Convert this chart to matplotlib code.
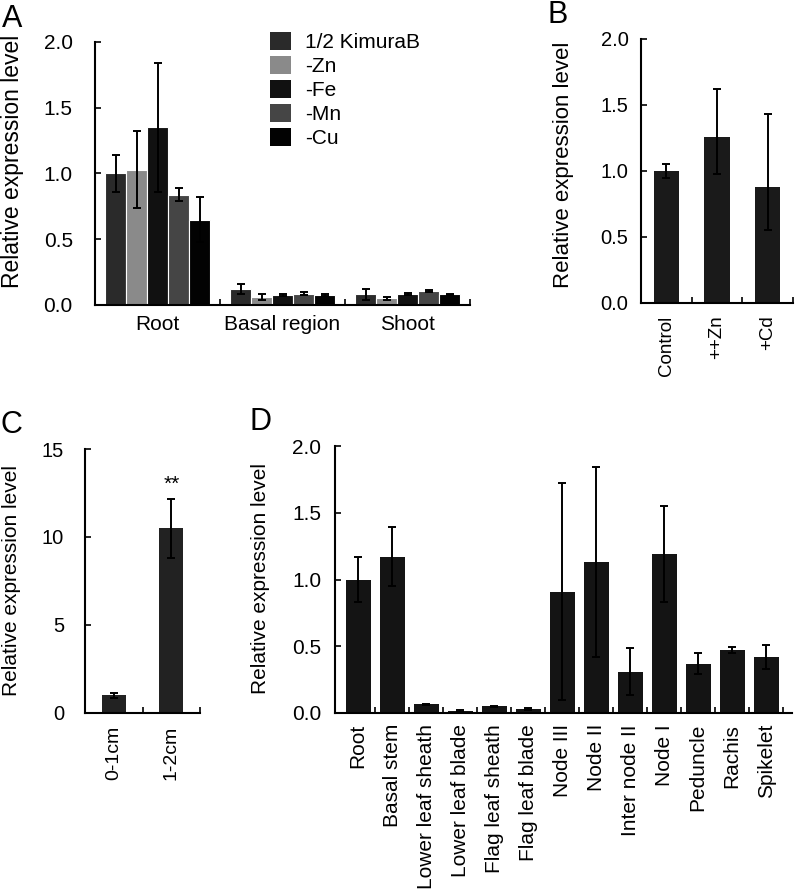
import matplotlib.pyplot as plt
from matplotlib.patches import Patch
import numpy as np

plt.rcParams['font.family'] = ['Liberation Sans', 'DejaVu Sans']
plt.rcParams['font.size'] = 15

W, H = 796, 889

# panel A: metal deficiency
a_groups = ["Root", "Basal region", "Shoot"]
a_series = ["1/2 KimuraB", "-Zn", "-Fe", "-Mn", "-Cu"]
a_colors = ["#2a2a2a", "#8a8a8a", "#111111", "#454545", "#020202"]
a_vals = [[1.00, 0.12, 0.08],
          [1.03, 0.06, 0.05],
          [1.35, 0.075, 0.085],
          [0.84, 0.085, 0.105],
          [0.65, 0.075, 0.08]]
a_errs = [[0.14, 0.04, 0.04],
          [0.29, 0.02, 0.01],
          [0.49, 0.006, 0.006],
          [0.05, 0.012, 0.008],
          [0.17, 0.006, 0.005]]

# panel B: excess Zn / Cd
b_labels = ["Control", "++Zn", "+Cd"]
b_vals = [1.00, 1.26, 0.88]
b_err_lo = [0.05, 0.28, 0.33]
b_err_hi = [0.05, 0.36, 0.55]

# panel C: root segments
c_labels = ["0-1cm", "1-2cm"]
c_vals = [1.0, 10.5]
c_errs = [0.12, 1.68]

# panel D: tissues
d_labels = ["Root", "Basal stem", "Lower leaf sheath", "Lower leaf blade",
            "Flag leaf sheath", "Flag leaf blade", "Node III", "Node II",
            "Inter node II", "Node I", "Peduncle", "Rachis", "Spikelet"]
d_vals = [1.00, 1.17, 0.064, 0.018, 0.050, 0.030, 0.91, 1.13, 0.31, 1.19,
          0.37, 0.47, 0.42]
d_errs = [0.17, 0.22, 0.006, 0.007, 0.006, 0.006, 0.815, 0.71, 0.177, 0.36,
          0.08, 0.024, 0.09]

fig = plt.figure(figsize=(W / 100, H / 100), dpi=100)


def px_axes(left, top, right, bottom):
    return fig.add_axes([left / W, 1 - bottom / H, (right - left) / W, (bottom - top) / H])


def style(ax, n, ypad, xpad, fs_y, fs_x, xlim=None):
    for s in ["top", "right"]:
        ax.spines[s].set_visible(False)
    for s in ["left", "bottom"]:
        ax.spines[s].set_linewidth(1.5)
    ax.tick_params(axis="y", direction="in", length=4, width=1.2, pad=ypad, labelsize=fs_y)
    ax.set_xlim(xlim if xlim else (-0.5, n - 0.5))
    ax.set_xticks(np.arange(n))
    ax.tick_params(axis="x", which="major", length=0, pad=xpad, labelsize=fs_x)
    ax.set_xticks(np.arange(n) + 0.5, minor=True)
    ax.tick_params(axis="x", which="minor", direction="in", length=4, width=1.2)


def ylab(x, y, fs):
    fig.text(x / W, 1 - y / H, "Relative expression level", rotation=90,
             ha="center", va="center", fontsize=fs)


ekw = dict(ecolor="black", elinewidth=1.4, capsize=3, capthick=1.4)
ticks2 = [0, 0.5, 1.0, 1.5, 2.0]
tlab2 = ["0.0", "0.5", "1.0", "1.5", "2.0"]

# A
axA = px_axes(95, 42, 470, 305)
x = np.arange(len(a_groups))
bw = 0.168
for i, name in enumerate(a_series):
    off = (i - 2) * bw
    axA.bar(x + off, a_vals[i], bw, color=a_colors[i], edgecolor="white",
            linewidth=0.8, yerr=a_errs[i], error_kw=ekw)
style(axA, 3, 16, 7, 15, 15)
axA.set_xticklabels(a_groups)
axA.set_ylim(0, 2.0)
axA.set_yticks(ticks2)
axA.set_yticklabels(tlab2)
handles = [Patch(facecolor=c, edgecolor="none") for c in a_colors]
axA.legend(handles, a_series, loc="upper left", bbox_to_anchor=(251 / W, 1 - 13 / H),
           bbox_transform=fig.transFigure, frameon=False, handlelength=1.0,
           handleheight=1.0, labelspacing=0.17, handletextpad=0.7, fontsize=15)
ylab(13, 161, 16.5)

# B
axB = px_axes(641, 39, 793, 303)
axB.bar(np.arange(3), b_vals, 0.5, color="#1a1a1a",
        yerr=[b_err_lo, b_err_hi], error_kw=ekw)
style(axB, 3, 9, 9, 14.5, 13.5)
axB.set_xticklabels(b_labels, rotation=90)
axB.set_ylim(0, 2.0)
axB.set_yticks(ticks2)
axB.set_yticklabels(tlab2)
ylab(564, 165, 16)

# C
axC = px_axes(85, 449, 200, 713)
axC.bar(np.arange(2), c_vals, 0.42, color="#222222", yerr=c_errs, error_kw=ekw)
style(axC, 2, 15, 9, 14.5, 14)
axC.set_xticklabels(c_labels, rotation=90)
axC.set_ylim(0, 15)
axC.set_yticks([0, 5, 10, 15])
axC.text(1, c_vals[1] + c_errs[1] + 0.3, "**", ha="center", va="bottom", fontsize=15)
ylab(12, 581, 15)

# D
axD = px_axes(335, 446, 792, 713)
axD.bar(np.arange(len(d_labels)), d_vals, 0.73, color="#141414",
        yerr=d_errs, error_kw=ekw)
style(axD, len(d_labels), 10, 8, 15, 15, xlim=(-0.68, 12.76))
axD.set_xticklabels(d_labels, rotation=90)
axD.set_ylim(0, 2.0)
axD.set_yticks(ticks2)
axD.set_yticklabels(tlab2)
ylab(260, 578, 15)

# panel letters (baseline positions)
for lab, px, py in [("A", 2, 27), ("B", 548, 23), ("C", 1, 433), ("D", 249, 430)]:
    fig.text(px / W, 1 - py / H, lab, ha="left", va="baseline", fontsize=22)

fig.savefig("out.png", dpi=100)
